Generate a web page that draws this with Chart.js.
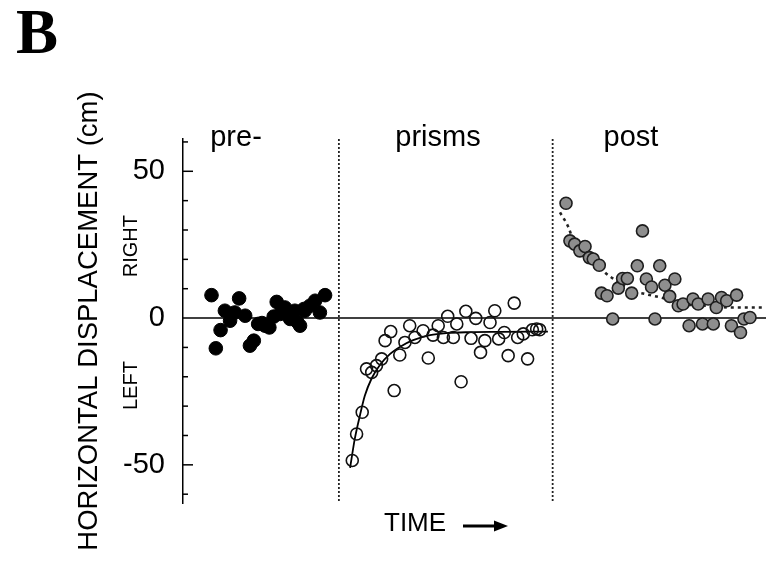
<!DOCTYPE html>
<html>
<head>
<meta charset="utf-8">
<script src="https://cdn.jsdelivr.net/npm/chart.js@4.4.1/dist/chart.umd.min.js"></script>
<style>
  body { margin: 0; background: #fff; }
  #wrap { width: 766px; height: 562px; }
</style>
</head>
<body>
<div id="wrap"><canvas id="shiftChart" width="766" height="562"></canvas></div>
<script>
// time runs left to right through the three phases; shift is in cm (+ = right)
const preTime = [6.6, 7.6, 8.7, 9.7, 10.9, 11.1, 12.0, 13.0, 14.4, 15.5, 16.4, 17.4, 18.3, 19.0, 20.0,
  21.0, 21.7, 22.5, 23.6, 24.8, 25.9, 26.4, 27.1, 28.0, 28.2, 29.4, 30.6, 31.7, 32.9];
const preShift = [7.8, -10.3, -4.1, 2.5, -0.9, 1.4, 1.9, 6.7, 0.8, -9.4, -7.7, -2.0, -1.7, -2.6, -3.2,
  0.5, 5.5, 1.4, 3.6, -0.3, 2.5, -1.2, -2.6, 3.1, 2.5, 4.2, 5.9, 1.9, 7.8];

const prismTime = [39.2, 40.2, 41.5, 42.5, 43.7, 44.8, 46.0, 46.8, 48.1, 48.9, 50.2, 51.4, 52.5, 53.7,
  55.6, 56.8, 57.9, 59.1, 60.3, 61.3, 62.6, 63.4, 64.4, 65.5, 66.7, 67.8, 68.9, 69.9, 71.1, 72.2,
  73.1, 74.4, 75.3, 76.7, 77.5, 78.8, 79.8, 80.9, 81.9, 82.6];
const prismShift = [-48.5, -39.5, -32.1, -17.3, -18.5, -16.2, -13.9, -7.7, -4.6, -24.7, -12.6, -8.3, -2.6, -6.6,
  -4.3, -13.6, -5.8, -2.6, -6.6, 0.6, -6.6, -2.0, -21.7, 2.3, -6.9, -0.1, -11.7, -7.7, -1.5, 2.5,
  -7.1, -4.9, -12.8, 5.1, -6.6, -5.4, -13.9, -4.0, -3.7, -4.0];

const postTime = [88.7, 89.6, 90.7, 91.9, 93.1, 94.1, 95.0, 96.4, 96.9, 98.2, 99.5, 100.8, 101.8, 102.9,
  103.9, 105.2, 106.4, 107.3, 108.5, 109.3, 110.4, 111.6, 112.7, 113.9, 114.7, 115.8, 117.2, 118.1,
  119.3, 120.3, 121.6, 122.8, 123.5, 124.7, 125.9, 127.0, 128.2, 129.1, 129.9, 131.3];
const postShift = [39.1, 26.3, 25.2, 22.9, 24.4, 20.6, 20.1, 18.0, 8.5, 7.6, -0.3, 10.2, 13.5, 13.5,
  8.5, 17.8, 29.7, 13.3, 10.6, -0.3, 17.8, 11.2, 7.4, 13.3, 4.2, 4.8, -2.6, 6.5,
  4.8, -2.0, 6.5, -2.0, 3.6, 7.0, 5.9, -2.6, 7.8, -4.9, -0.3, 0.2];

// fitted curves
const prismFitTime = [38.7, 39.8, 41.0, 42.1, 43.7, 45.6, 47.9, 50.6, 53.3, 57.2, 61.0, 66.4, 73.4, 84.5];
const prismFitShift = [-51, -41, -33, -26.5, -20.5, -16, -12.3, -9.5, -7.5, -5.8, -5.1, -4.8, -4.7, -4.6];
const postFitTime = [87.3, 89.3, 90.4, 93.8, 97.7, 100.4, 103.9, 107.0, 112.0, 115.7, 121.2, 127.3, 134.3];
const postFitShift = [36, 30.8, 26.3, 21.8, 15.5, 12.7, 9.3, 8.2, 6.5, 4.8, 4.2, 3.6, 3.6];

const phaseBreaks = [36.1, 85.6];
const phaseNames = ["pre-", "prisms", "post"];
const labeledTicks = [50, 0, -50];

const FONT = "'Liberation Sans', Arial, Helvetica, sans-serif";

function pts(xs, ys) {
  return xs.map((x, i) => ({ x: x, y: ys[i] }));
}

// phase separators, zero line, inward ticks and the extra labels
const decorations = {
  id: "decorations",
  beforeDatasetsDraw(chart) {
    const { ctx, chartArea, scales } = chart;
    const x = scales.x, y = scales.y;
    ctx.save();
    ctx.strokeStyle = "#000";

    // zero line runs to the edge of the canvas
    ctx.lineWidth = 1.5;
    const y0 = y.getPixelForValue(0);
    ctx.beginPath();
    ctx.moveTo(chartArea.left, y0);
    ctx.lineTo(chart.width, y0);
    ctx.stroke();

    // tick marks pointing into the plot
    y.ticks.forEach(t => {
      if (t.value === 0) return;
      const py = y.getPixelForValue(t.value);
      const len = t.value % 50 === 0 ? 10 : 5;
      ctx.beginPath();
      ctx.moveTo(chartArea.left, py);
      ctx.lineTo(chartArea.left + len, py);
      ctx.stroke();
    });

    // dotted phase separators
    ctx.setLineDash([2, 2]);
    ctx.lineWidth = 1.8;
    ctx.strokeStyle = "#222";
    phaseBreaks.forEach(b => {
      const px = x.getPixelForValue(b);
      ctx.beginPath();
      ctx.moveTo(px, chartArea.top);
      ctx.lineTo(px, chartArea.bottom);
      ctx.stroke();
    });
    ctx.restore();
  },
  afterDraw(chart) {
    const { ctx, chartArea, scales } = chart;
    const y = scales.y;
    ctx.save();
    ctx.fillStyle = "#000";

    // panel letter
    ctx.font = "bold 63px 'Liberation Serif', 'Times New Roman', serif";
    ctx.textAlign = "left";
    ctx.textBaseline = "alphabetic";
    ctx.fillText("B", 16, 53);

    // phase names
    ctx.font = "29px " + FONT;
    ctx.textAlign = "center";
    const centers = [236, 438, 631];
    phaseNames.forEach((n, i) => ctx.fillText(n, centers[i], 146));

    // RIGHT / LEFT beside the axis
    ctx.font = "20px " + FONT;
    [["RIGHT", 24.5], ["LEFT", -23]].forEach(([txt, v]) => {
      ctx.save();
      ctx.translate(chartArea.left - 52, y.getPixelForValue(v));
      ctx.rotate(-Math.PI / 2);
      ctx.textBaseline = "middle";
      ctx.fillText(txt, 0, 0);
      ctx.restore();
    });

    // TIME arrow
    ctx.font = "26px " + FONT;
    ctx.textAlign = "left";
    ctx.textBaseline = "middle";
    ctx.fillText("TIME", 384, 524);
    ctx.lineWidth = 3;
    ctx.strokeStyle = "#000";
    ctx.beginPath();
    ctx.moveTo(463, 526);
    ctx.lineTo(498, 526);
    ctx.stroke();
    ctx.beginPath();
    ctx.moveTo(508, 526);
    ctx.lineTo(494, 520.5);
    ctx.lineTo(494, 531.5);
    ctx.closePath();
    ctx.fill();
    ctx.restore();
  }
};

const chart = new Chart(document.getElementById("shiftChart"), {
  type: "scatter",
  data: {
    datasets: [
      {
        label: "pre-",
        data: pts(preTime, preShift),
        pointRadius: 6.8,
        backgroundColor: "#000",
        borderColor: "#000",
        borderWidth: 1,
      },
      {
        label: "prisms",
        data: pts(prismTime, prismShift),
        pointRadius: 6,
        backgroundColor: "rgba(255,255,255,0)",
        borderColor: "#111",
        borderWidth: 1.6,
      },
      {
        label: "post",
        data: pts(postTime, postShift),
        pointRadius: 6,
        backgroundColor: "#8e8e8e",
        borderColor: "#1e1e1e",
        borderWidth: 1.6,
      },
      {
        label: "prisms fit",
        data: pts(prismFitTime, prismFitShift),
        showLine: true,
        pointRadius: 0,
        borderColor: "#000",
        borderWidth: 1.8,
        cubicInterpolationMode: "monotone",
      },
      {
        label: "post fit",
        data: pts(postFitTime, postFitShift),
        showLine: true,
        clip: false,
        pointRadius: 0,
        borderColor: "#222",
        borderWidth: 2.6,
        borderDash: [3, 4],
        cubicInterpolationMode: "monotone",
      },
    ],
  },
  options: {
    responsive: false,
    animation: false,
    layout: { padding: { left: 0, right: 0, top: 139, bottom: 59 } },
    plugins: {
      legend: { display: false },
      tooltip: { enabled: false },
    },
    scales: {
      x: {
        type: "linear",
        display: false,
        min: 0,
        max: 133.2,
      },
      y: {
        min: -63,
        max: 61,
        afterFit: (s) => { s.width = 183; },
        border: { display: true, color: "#000", width: 1.5 },
        grid: { display: false, drawTicks: false, tickLength: 0 },
        ticks: {
          stepSize: 10,
          includeBounds: false,
          autoSkip: false,
          padding: 18,
          color: "#000",
          font: { family: FONT, size: 29 },
          callback: (v) => (labeledTicks.includes(v) ? String(v) : ""),
        },
        title: {
          display: true,
          text: "HORIZONTAL DISPLACEMENT (cm)",
          color: "#000",
          font: { family: FONT, size: 27.5 },
          padding: { top: 73, bottom: 0 },
        },
      },
    },
  },
  plugins: [decorations],
});
</script>
</body>
</html>
